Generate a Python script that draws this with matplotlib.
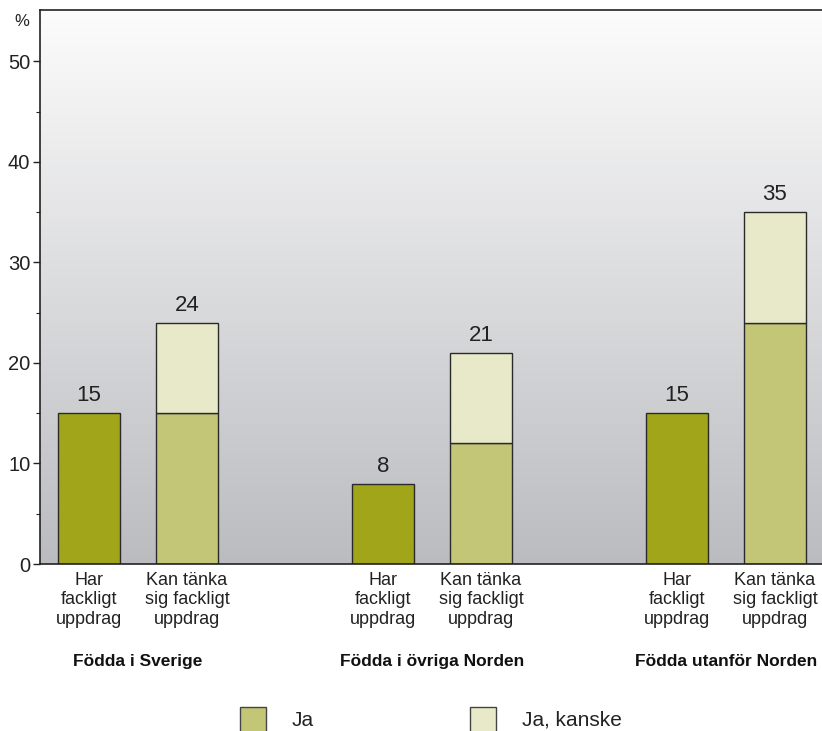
import numpy as np
import matplotlib
matplotlib.use("Agg")
import matplotlib.pyplot as plt
from matplotlib.patches import Rectangle
from matplotlib.colors import LinearSegmentedColormap
from matplotlib.ticker import FixedLocator

plt.rcParams['font.family'] = ['Liberation Sans', 'DejaVu Sans']

groups = ["Födda i Sverige", "Födda i övriga Norden", "Födda utanför Norden"]
bar_labels = ["Har\nfackligt\nuppdrag", "Kan tänka\nsig fackligt\nuppdrag"]
har = [15, 8, 15]            # Har fackligt uppdrag (Ja)
kan_ja = [15, 12, 24]        # Kan tänka sig: Ja
kan_kanske = [9, 9, 11]      # Kan tänka sig: Ja, kanske
series_names = ["Ja", "Ja, kanske"]
yticks = [0, 10, 20, 30, 40, 50]
yminor = [5, 15, 25, 35, 45]

c_dark = "#a0a51a"
c_ja = "#c4c677"
c_kanske = "#e8e9c9"
edge = "#2a2a2a"

fig = plt.figure(figsize=(8.22, 7.31), dpi=100)
W, H = 822, 731
ax = fig.add_axes([40 / W, 1 - 564 / H, 782 / W, 554 / H])

ymax = 55.1
xmin, xmax = -0.5, 7.48
# gradient background
cmap = LinearSegmentedColormap.from_list("bg", ["#bbbcc0", "#fcfcfc"])
grad = np.linspace(0, 1, 256).reshape(-1, 1)
ax.imshow(grad, aspect="auto", cmap=cmap, origin="lower",
          extent=[xmin, xmax, 0, ymax], zorder=0)

w = 0.633
for i in range(len(groups)):
    p0 = i * 3
    p1 = i * 3 + 1
    ax.bar(p0, har[i], width=w, color=c_dark, edgecolor=edge, linewidth=1, zorder=2)
    ax.bar(p1, kan_ja[i], width=w, color=c_ja, edgecolor=edge, linewidth=1, zorder=2)
    ax.bar(p1, kan_kanske[i], bottom=kan_ja[i], width=w, color=c_kanske,
           edgecolor=edge, linewidth=1, zorder=2)
    ax.annotate(f"{har[i]}", (p0, har[i]), xytext=(0, 5), textcoords="offset points",
                ha="center", va="bottom", fontsize=16, color="#222222")
    tot = kan_ja[i] + kan_kanske[i]
    ax.annotate(f"{tot}", (p1, tot), xytext=(0, 5), textcoords="offset points",
                ha="center", va="bottom", fontsize=16, color="#222222")
    for j, p in enumerate([p0, p1]):
        ax.text(p, -0.75, bar_labels[j], ha="center", va="top", fontsize=13,
                linespacing=1.22, color="#222222")
    ax.text(i * 3 + 0.5, -9.0, groups[i], ha="center", va="top", fontsize=12.5,
            fontweight="bold", color="#111111")

ax.set_xlim(xmin, xmax)
ax.set_ylim(0, ymax)
ax.set_xticks([])
ax.set_yticks(yticks)
ax.yaxis.set_minor_locator(FixedLocator(yminor))
ax.tick_params(axis="y", which="major", length=5, width=1, labelsize=14.5,
               colors="#222222", pad=2)
ax.tick_params(axis="y", which="minor", length=3, width=0.8, colors="#222222")
ax.spines["right"].set_visible(False)
for s in ["left", "top", "bottom"]:
    ax.spines[s].set_color("#222222")
    ax.spines[s].set_linewidth(1.2)

fig.text(22 / W, 1 - 22 / H, "%", ha="center", va="center", fontsize=12, color="#222222")

# legend drawn manually
leg_x = [240, 470]
leg_c = [c_ja, c_kanske]
for k in range(2):
    fig.patches.append(Rectangle((leg_x[k] / W, 1 - 733 / H), 26 / W, 26 / H,
                                 transform=fig.transFigure, facecolor=leg_c[k],
                                 edgecolor="#444444", linewidth=1))
    fig.text((leg_x[k] + 52) / W, 1 - 720 / H, series_names[k], ha="left",
             va="center", fontsize=15, color="#222222")

fig.savefig("out.png", dpi=100)
